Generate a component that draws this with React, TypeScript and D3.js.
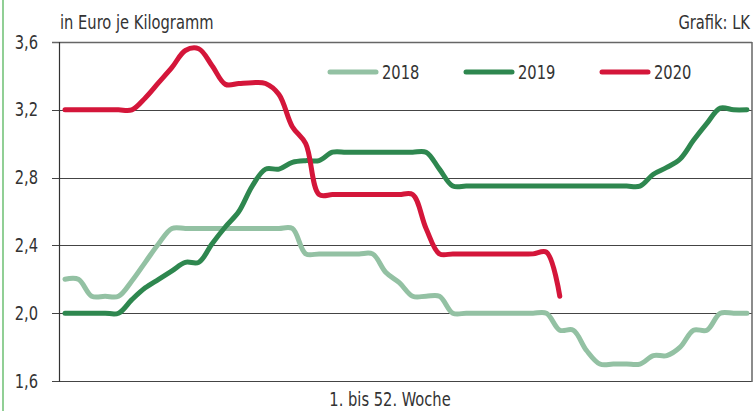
import React from "react";
import * as d3 from "d3";

// Preis in Euro je Kilogramm, Kalenderwoche 1 bis 52
const weeks = d3.range(1, 53);

const prices2018 = [
  2.2, 2.2, 2.1, 2.1, 2.1, 2.19, 2.3, 2.41, 2.5, 2.5, 2.5, 2.5, 2.5, 2.5, 2.5,
  2.5, 2.5, 2.5, 2.35, 2.35, 2.35, 2.35, 2.35, 2.35, 2.24, 2.18, 2.1, 2.1, 2.1,
  2.0, 2.0, 2.0, 2.0, 2.0, 2.0, 2.0, 2.0, 1.9, 1.9, 1.78, 1.7, 1.7, 1.7, 1.7,
  1.75, 1.75, 1.8, 1.9, 1.9, 2.0, 2.0, 2.0,
];

const prices2019 = [
  2.0, 2.0, 2.0, 2.0, 2.0, 2.08, 2.15, 2.2, 2.25, 2.3, 2.3, 2.41, 2.51, 2.6,
  2.75, 2.85, 2.85, 2.89, 2.9, 2.9, 2.95, 2.95, 2.95, 2.95, 2.95, 2.95, 2.95,
  2.95, 2.85, 2.75, 2.75, 2.75, 2.75, 2.75, 2.75, 2.75, 2.75, 2.75, 2.75, 2.75,
  2.75, 2.75, 2.75, 2.75, 2.82, 2.86, 2.91, 3.02, 3.12, 3.21, 3.2, 3.2,
];

const prices2020 = [
  3.2, 3.2, 3.2, 3.2, 3.2, 3.2, 3.27, 3.36, 3.45, 3.55, 3.56, 3.46, 3.35, 3.355,
  3.36, 3.355, 3.29, 3.1, 3.0, 2.7, 2.7, 2.7, 2.7, 2.7, 2.7, 2.7, 2.7, 2.5,
  2.35, 2.35, 2.35, 2.35, 2.35, 2.35, 2.35, 2.35, 2.36, 2.1,
];

const seriesNames = ["2018", "2019", "2020"];
const seriesValues = [prices2018, prices2019, prices2020];
const seriesColors = ["#93c1a3", "#2e874f", "#d4163a"];

const yTicks = [1.6, 2.0, 2.4, 2.8, 3.2, 3.6];

const W = 756;
const H = 411;
const plot = { left: 59, right: 752, top: 42, bottom: 381 };
const font = "'DejaVu Sans Condensed', 'DejaVu Sans', sans-serif";
const textColor = "#333";

// condensed label: squeeze the glyphs horizontally like the print font
const Label = ({
  x,
  y,
  anchor = "start",
  middle = false,
  children,
}: {
  x: number;
  y: number;
  anchor?: "start" | "middle" | "end";
  middle?: boolean;
  children: React.ReactNode;
}) => (
  <text
    transform={`translate(${x},${y}) scale(0.86,1)`}
    dy={middle ? "0.35em" : undefined}
    textAnchor={anchor}
    fontFamily={font}
    fontStretch="condensed"
    fontSize={19}
    fill={textColor}
  >
    {children}
  </text>
);

export default function App() {
  const x = d3.scaleLinear().domain([1, 52]).range([65, 747]);
  const y = d3.scaleLinear().domain([1.6, 3.6]).range([plot.bottom, plot.top]);

  const line = d3
    .line<number>()
    .x((_, i) => x(weeks[i]))
    .y((d) => y(d))
    .curve(d3.curveCatmullRom.alpha(0.5));

  const fmt = (v: number) => v.toFixed(1).replace(".", ",");

  // legend positions
  const legendX = [328, 464, 600];
  const legendY = 72;

  return (
    <>
      <style>{`body{margin:0}`}</style>
      <svg width={W} height={H} style={{ display: "block", background: "#fff" }}>
        {/* green rule on the left edge */}
        <line x1={3} x2={3} y1={0} y2={H} stroke="#6cbf72" strokeWidth={1.5} />

        <Label x={60} y={29}>in Euro je Kilogramm</Label>
        <Label x={750} y={29} anchor="end">Grafik: LK</Label>

        {/* grid + ticks */}
        {yTicks.map((t) => (
          <g key={t}>
            <line
              x1={52}
              x2={plot.right}
              y1={Math.round(y(t)) + 0.5}
              y2={Math.round(y(t)) + 0.5}
              stroke={t === 3.6 ? "#666" : "#444"}
              strokeWidth={t === 3.6 ? 1.5 : 1}
            />
            <Label x={38} y={y(t)} anchor="end" middle>
              {fmt(t)}
            </Label>
          </g>
        ))}
        <line x1={plot.left + 0.5} x2={plot.left + 0.5} y1={plot.top} y2={plot.bottom + 1} stroke="#333" strokeWidth={1.2} />
        <line x1={plot.right} x2={plot.right} y1={plot.top} y2={plot.bottom + 1} stroke="#666" strokeWidth={1.5} />

        {/* series */}
        {seriesValues.map((vals, i) => (
          <path
            key={seriesNames[i]}
            d={line(vals) ?? ""}
            fill="none"
            stroke={seriesColors[i]}
            strokeWidth={5}
            strokeLinecap="round"
            strokeLinejoin="round"
          />
        ))}

        {/* legend */}
        {seriesNames.map((name, i) => (
          <g key={name}>
            <line
              x1={legendX[i] + 2}
              x2={legendX[i] + 48}
              y1={legendY}
              y2={legendY}
              stroke={seriesColors[i]}
              strokeWidth={5}
              strokeLinecap="round"
            />
            <Label x={legendX[i] + 54} y={legendY} middle>
              {name}
            </Label>
          </g>
        ))}

        <Label x={390} y={406} anchor="middle">1. bis 52. Woche</Label>
      </svg>
    </>
  );
}
